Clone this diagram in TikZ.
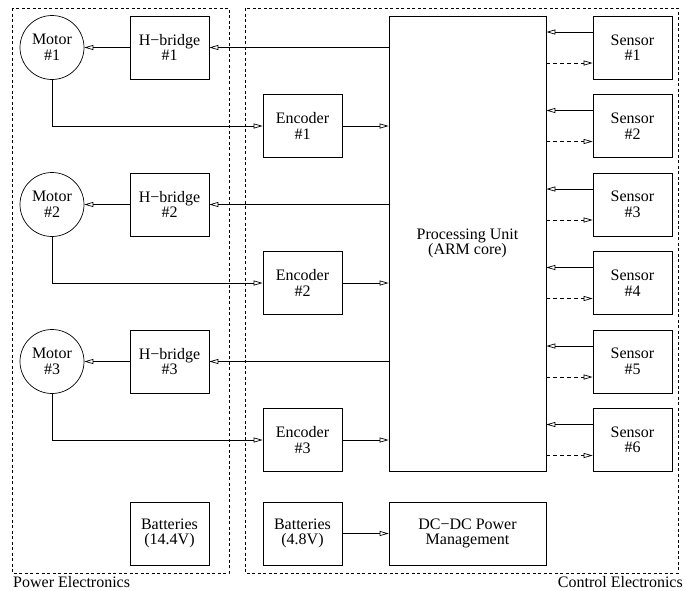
\documentclass[tikz,border=0pt]{standalone}
\usepackage{fontspec}
\setmainfont{Liberation Serif}
\usetikzlibrary{arrows.meta}
\begin{document}
\begin{tikzpicture}[x=1pt,y=-1pt,
    blk/.style={draw,line width=0.7pt,minimum width=79pt,minimum height=63pt,inner sep=0pt,align=center,font=\fontsize{16}{15.5}\selectfont},
    mot/.style={draw,circle,line width=0.7pt,minimum size=64pt,inner sep=0pt,align=center,font=\fontsize{16}{15.5}\selectfont},
    con/.style={line width=0.7pt,-{Triangle[open,length=9pt,width=5pt]}},
    area/.style={line width=0.6pt,dash pattern=on 3pt off 2.5pt}]
    \useasboundingbox (0,0) rectangle (686,590);
    % dashed frames
    \draw[area] (12.5,8) rectangle (229,573);
    \draw[area] (245,8) rectangle (678,573);
    \node[anchor=west,inner sep=0pt,font=\fontsize{16}{16}\selectfont] (pwr) at (13,582) {Power Electronics};
    \node[anchor=east,inner sep=0pt,font=\fontsize{16}{16}\selectfont] (ctl) at (683,582) {Control Electronics};
    % power side
    \node[mot] (m1) at (52,47.5) {Motor\\\#1};
    \node[mot] (m2) at (52,204.5) {Motor\\\#2};
    \node[mot] (m3) at (52,361.5) {Motor\\\#3};
    \node[blk] (hb1) at (169.5,47.5) {H−bridge\\\#1};
    \node[blk] (hb2) at (169.5,204.5) {H−bridge\\\#2};
    \node[blk] (hb3) at (169.5,361.5) {H−bridge\\\#3};
    \node[blk] (bat1) at (169.5,533.5) {Batteries\\(14.4V)};
    % control side
    \node[blk] (enc1) at (302.5,126) {Encoder\\\#1};
    \node[blk] (enc2) at (302.5,283) {Encoder\\\#2};
    \node[blk] (enc3) at (302.5,440) {Encoder\\\#3};
    \node[blk] (bat2) at (302.5,533.5) {Batteries\\(4.8V)};
    \node[blk,minimum width=157pt,minimum height=455pt] (pu) at (467.5,243.5) {Processing Unit\\(ARM core)};
    \node[blk,minimum width=157pt] (dcdc) at (467.5,533.5) {DC−DC Power\\Management};
    \foreach \i in {1,...,6}
        \node[blk] (s\i) at (632.5,{47.5+78.5*(\i-1)}) {Sensor\\\#\i};
    % connections
    \foreach \i in {1,2,3} {
        \draw[con] (pu.west |- hb\i) -- (hb\i);
        \draw[con] (hb\i) -- (m\i);
        \draw[con] (m\i.south) |- (enc\i);
        \draw[con] (enc\i) -- (enc\i -| pu.west);
    }
    \foreach \i in {1,...,6} {
        \draw[con] ([yshift=15.5pt]s\i.west) -- ([yshift=15.5pt]s\i.west -| pu.east);
        \draw[con,dash pattern=on 4pt off 3pt] ([yshift=-15.5pt]s\i.west -| pu.east) -- ([yshift=-15.5pt]s\i.west);
    }
    \draw[con] (bat2) -- (dcdc);
\end{tikzpicture}
\end{document}
